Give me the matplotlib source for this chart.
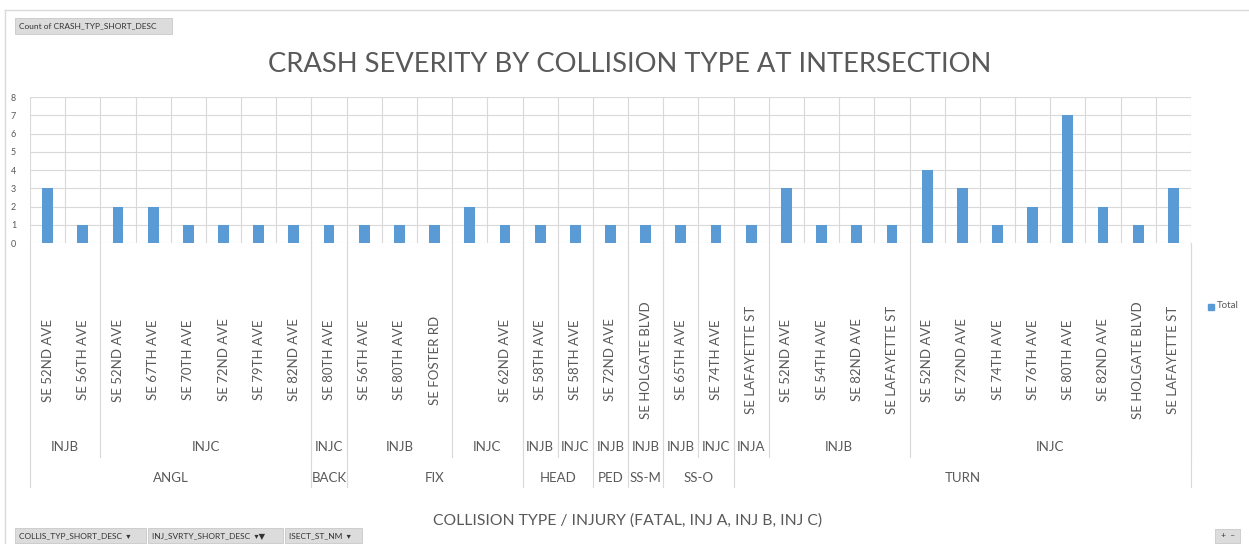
import matplotlib.pyplot as plt
import matplotlib.transforms as mtransforms
from matplotlib.patches import Rectangle

# pivot table rows: collision type / injury / intersection street
coll_types = ['ANGL'] * 8 + ['BACK'] + ['FIX'] * 5 + ['HEAD'] * 2 + ['PED'] + ['SS-M'] + ['SS-O'] * 2 + ['TURN'] * 13
injuries = (['INJB'] * 2 + ['INJC'] * 6 + ['INJC'] + ['INJB'] * 3 + ['INJC'] * 2 + ['INJB', 'INJC'] + ['INJB'] + ['INJB']
            + ['INJB', 'INJC'] + ['INJA'] + ['INJB'] * 4 + ['INJC'] * 8)
streets = ['SE 52ND AVE', 'SE 56TH AVE', 'SE 52ND AVE', 'SE 67TH AVE', 'SE 70TH AVE', 'SE 72ND AVE', 'SE 79TH AVE', 'SE 82ND AVE',
           'SE 80TH AVE',
           'SE 56TH AVE', 'SE 80TH AVE', 'SE FOSTER RD', '', 'SE 62ND AVE',
           'SE 58TH AVE', 'SE 58TH AVE',
           'SE 72ND AVE',
           'SE HOLGATE BLVD',
           'SE 65TH AVE', 'SE 74TH AVE',
           'SE LAFAYETTE ST', 'SE 52ND AVE', 'SE 54TH AVE', 'SE 82ND AVE', 'SE LAFAYETTE ST',
           'SE 52ND AVE', 'SE 72ND AVE', 'SE 74TH AVE', 'SE 76TH AVE', 'SE 80TH AVE', 'SE 82ND AVE', 'SE HOLGATE BLVD', 'SE LAFAYETTE ST']
counts = [3, 1, 2, 2, 1, 1, 1, 1,
          1,
          1, 1, 1, 2, 1,
          1, 1,
          1,
          1,
          1, 1,
          1, 3, 1, 1, 1,
          4, 3, 1, 2, 7, 2, 1, 3]

W, H = 1249, 544
FONT = ['Lato', 'DejaVu Sans']
TXT = '#595959'
GRID = '#d9d9d9'
BAR = '#5B9BD5'

plt.rcParams['font.family'] = FONT

fig = plt.figure(figsize=(W / 100, H / 100), dpi=100)

def fx(px):
    return px / W

def fy(py):
    return 1 - py / H

# plot area in pixels
left, right, top, bottom = 30, 1191, 97, 243
ax = fig.add_axes([fx(left), fy(bottom), fx(right - left), (bottom - top) / H])

n = len(counts)
x = list(range(n))
ax.bar(x, counts, width=0.31, color=BAR, zorder=3)
ax.set_xlim(-0.5, n - 0.5)
ax.set_ylim(0, 8)
ax.set_yticks(range(0, 9))
ax.tick_params(axis='y', length=0, labelsize=6.5, labelcolor=TXT, pad=10)
ax.set_xticks([])
for s in ax.spines.values():
    s.set_visible(False)
for yv in range(0, 9):
    ax.axhline(yv, color=GRID, lw=0.8, zorder=1)
for i in range(n + 1):
    ax.axvline(i - 0.5, color=GRID, lw=0.8, zorder=1)

# multi-level category labels below the axis
trans = mtransforms.blended_transform_factory(ax.transData, fig.transFigure)
for i, st in enumerate(streets):
    ax.text(i, fy(360), st, rotation=90, ha='center', va='center', fontsize=9.5,
            color=TXT, transform=trans, clip_on=False)

def groups(keys):
    out = []
    start = 0
    for i in range(1, len(keys) + 1):
        if i == len(keys) or keys[i] != keys[start]:
            out.append((start, i - 1, keys[start]))
            start = i
    return out

inj_keys = list(zip(coll_types, injuries))
for a, b, k in groups(inj_keys):
    ax.text((a + b) / 2, fy(447), k[1], ha='center', va='center', fontsize=9.5,
            color=TXT, transform=trans, clip_on=False)
    ax.plot([b + 0.5, b + 0.5], [fy(bottom), fy(457)], color=GRID, lw=0.8,
            transform=trans, clip_on=False)

for a, b, k in groups(coll_types):
    ax.text((a + b) / 2, fy(478), k, ha='center', va='center', fontsize=9.5,
            color=TXT, transform=trans, clip_on=False)
    ax.plot([b + 0.5, b + 0.5], [fy(bottom), fy(487)], color=GRID, lw=0.8,
            transform=trans, clip_on=False)
ax.plot([-0.5, -0.5], [fy(bottom), fy(487)], color=GRID, lw=0.8,
        transform=trans, clip_on=False)

# titles
fig.text(fx(630), fy(65), 'CRASH SEVERITY BY COLLISION TYPE AT INTERSECTION',
         ha='center', va='center', fontsize=19.7, color=TXT)
fig.text(fx(628), fy(521), 'COLLISION TYPE / INJURY (FATAL, INJ A, INJ B, INJ C)',
         ha='center', va='center', fontsize=11.3, color=TXT)

# legend
fig.patches.append(Rectangle((fx(1208), fy(310)), fx(6), 6 / H, color=BAR, transform=fig.transFigure))
fig.text(fx(1217), fy(306), 'Total', ha='left', va='center', fontsize=7, color=TXT)

# outer frame of the chart
fig.add_artist(plt.Line2D([fx(5), fx(1249)], [fy(10), fy(10)], color=GRID, lw=1))
fig.add_artist(plt.Line2D([fx(5), fx(5)], [fy(10), fy(544)], color=GRID, lw=1))

# pivot field buttons
def button(x0, x1, y0, y1, label):
    fig.patches.append(Rectangle((fx(x0), fy(y1)), fx(x1 - x0), (y1 - y0) / H,
                                 facecolor='#dcdcdc', edgecolor='#c8c8c8', lw=0.6,
                                 transform=fig.transFigure))
    fig.text(fx(x0 + 4), fy((y0 + y1) / 2), label, ha='left', va='center',
             fontsize=6, color='#333333')

button(15, 172, 18, 34, 'Count of CRASH_TYP_SHORT_DESC')
button(15, 146, 528, 543, 'COLLIS_TYP_SHORT_DESC  \u25be')
button(148, 283, 528, 543, 'INJ_SVRTY_SHORT_DESC  \u25be\u25bc')
button(285, 362, 528, 543, 'ISECT_ST_NM  \u25be')
button(1215, 1240, 529, 543, ' +  \u2013')

fig.savefig('out.png', dpi=100)
